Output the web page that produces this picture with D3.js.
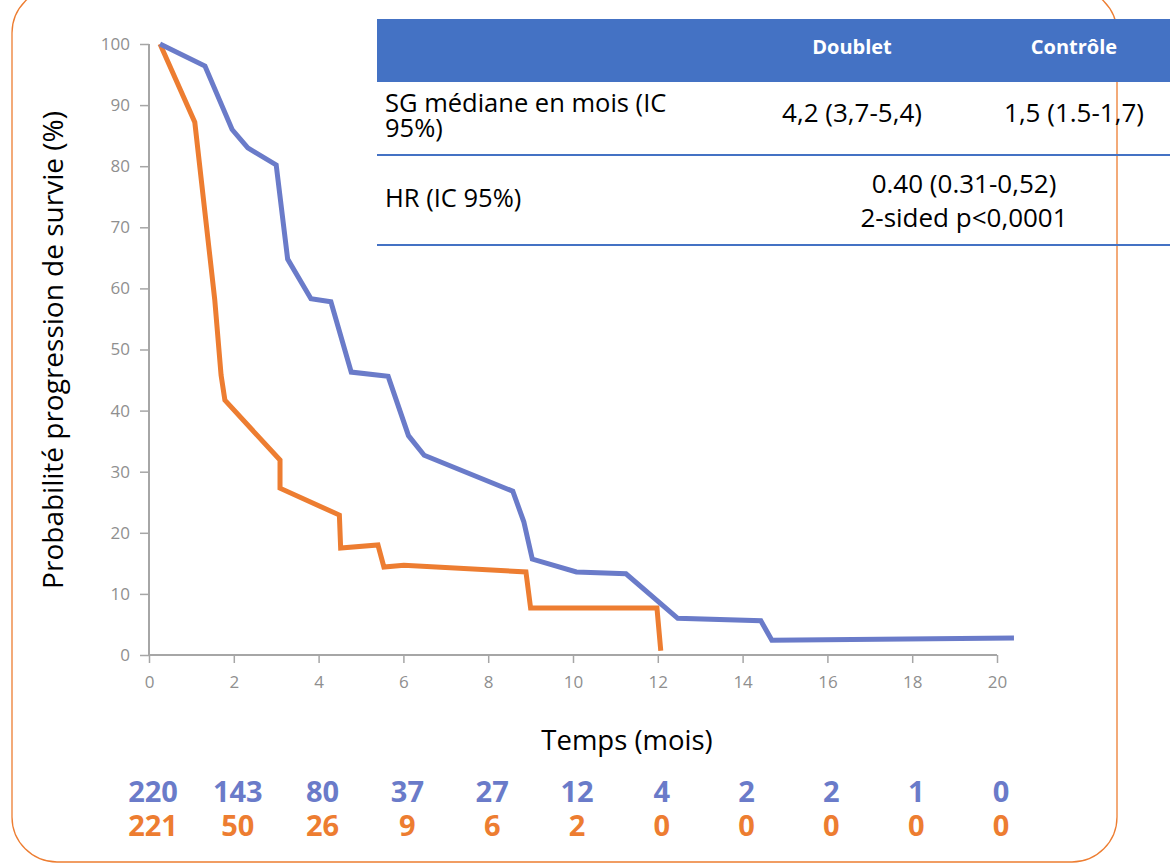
<!DOCTYPE html>
<html>
<head>
<meta charset="utf-8">
<script src="https://cdn.jsdelivr.net/npm/d3@7"></script>
<style>
  body { margin: 0; background: #fff; }
  svg { display: block; font-family: "Open Sans", sans-serif; }
</style>
</head>
<body>
<svg id="chart" width="1170" height="864"></svg>
<script>
// Kaplan-Meier curves (months, % survival)
const doubletTime = [0.26, 1.32, 1.96, 2.33, 3.0, 3.27, 3.82, 4.29, 4.77, 5.64, 6.12, 6.49, 8.58, 8.84, 9.04, 10.08, 11.25, 12.47, 14.43, 14.69, 20.4];
const doubletSurv = [100, 96.4, 86.0, 83.0, 80.2, 64.8, 58.3, 57.8, 46.3, 45.6, 35.9, 32.7, 26.8, 21.8, 15.7, 13.6, 13.3, 6.0, 5.6, 2.4, 2.8];

const controlTime = [0.26, 1.08, 1.55, 1.70, 1.79, 3.09, 3.09, 4.49, 4.52, 5.40, 5.54, 6.01, 8.89, 9.00, 11.98, 12.07];
const controlSurv = [100, 87.2, 58.2, 45.8, 41.7, 31.9, 27.3, 22.9, 17.5, 18.0, 14.4, 14.7, 13.6, 7.7, 7.7, 0.7];

// Number at risk
const riskTimes = [0, 2, 4, 6, 8, 10, 12, 14, 16, 18, 20];
const riskDoublet = [220, 143, 80, 37, 27, 12, 4, 2, 2, 1, 0];
const riskControl = [221, 50, 26, 9, 6, 2, 0, 0, 0, 0, 0];

// Summary table
const tableHeader = ["Doublet", "Contrôle"];
const medianLabel = ["SG médiane en mois (IC", "95%)"];
const medianValues = ["4,2 (3,7-5,4)", "1,5 (1.5-1,7)"];
const hrLabel = "HR (IC 95%)";
const hrValues = ["0.40 (0.31-0,52)", "2-sided p<0,0001"];

const blue = "#6a7bc9",
      orange = "#ed7d31",
      tableBlue = "#4472c4",
      axisGrey = "#a6a6a6",
      labelGrey = "#8f8f8f";

const svg = d3.select("#chart");

const x = d3.scaleLinear().domain([0, 20]).range([149, 997]);
const y = d3.scaleLinear().domain([0, 100]).range([655, 44]);

// Rounded frame
svg.append("rect")
    .attr("x", 12).attr("y", -12)
    .attr("width", 1105).attr("height", 874)
    .attr("rx", 45).attr("ry", 45)
    .attr("fill", "none")
    .attr("stroke", orange)
    .attr("stroke-width", 1.3);

// Axes
const yAxis = svg.append("g")
    .attr("transform", `translate(${x(0)},0)`)
    .call(d3.axisLeft(y).tickValues(d3.range(0, 101, 10)).tickSize(9).tickPadding(10));
const xAxis = svg.append("g")
    .attr("transform", `translate(0,${y(0)})`)
    .call(d3.axisBottom(x).tickValues(d3.range(0, 21, 2)).tickSize(8).tickPadding(13));

[yAxis, xAxis].forEach(a => {
  a.select(".domain").attr("stroke", axisGrey).attr("stroke-width", 2);
  a.selectAll(".tick line").attr("stroke", axisGrey).attr("stroke-width", 1.5);
  a.selectAll(".tick text")
      .attr("fill", labelGrey)
      .style("font-size", "17px")
      .style("font-family", "'Open Sans', sans-serif");
});
// keep only the plain axis line, no outer ticks
yAxis.select(".domain").attr("d", `M0,${y(100)}V${y(0)}`);
xAxis.select(".domain").attr("d", `M${x(0)},0H${x(20)}`);

// Axis titles
svg.append("text")
    .attr("transform", "translate(63,350) rotate(-90)")
    .attr("text-anchor", "middle")
    .style("font-size", "28px")
    .text("Probabilité progression de survie (%)");

svg.append("text")
    .attr("x", 627).attr("y", 750)
    .attr("text-anchor", "middle")
    .style("font-size", "27.5px")
    .text("Temps (mois)");

// Curves
const line = d3.line()
    .x(d => x(d[0]))
    .y(d => y(d[1]));

svg.append("path")
    .datum(d3.zip(controlTime, controlSurv))
    .attr("fill", "none")
    .attr("stroke", orange)
    .attr("stroke-width", 5)
    .attr("d", line);

svg.append("path")
    .datum(d3.zip(doubletTime, doubletSurv))
    .attr("fill", "none")
    .attr("stroke", blue)
    .attr("stroke-width", 5)
    .attr("d", line);

// Numbers at risk
const riskRows = [
  {values: riskDoublet, color: blue, y: 802},
  {values: riskControl, color: orange, y: 836}
];
riskRows.forEach(row => {
  svg.append("g").selectAll("text")
    .data(row.values)
    .enter()
    .append("text")
      .attr("x", (d, i) => x(riskTimes[i]) + 4)
      .attr("y", row.y)
      .attr("text-anchor", "middle")
      .attr("fill", row.color)
      .style("font-size", "29px")
      .style("font-weight", "bold")
      .text(d => d);
});

// Summary table (top right)
const table = svg.append("g");
table.append("rect")
    .attr("x", 377).attr("y", 19)
    .attr("width", 800).attr("height", 63)
    .attr("fill", tableBlue);

const colX = [852, 1074];
table.selectAll(".head")
  .data(tableHeader)
  .enter()
  .append("text")
    .attr("class", "head")
    .attr("x", (d, i) => colX[i])
    .attr("y", 54)
    .attr("text-anchor", "middle")
    .attr("fill", "#fff")
    .style("font-size", "20px")
    .style("font-weight", "bold")
    .text(d => d);

[155, 245].forEach(ly => {
  table.append("line")
      .attr("x1", 377).attr("x2", 1170)
      .attr("y1", ly).attr("y2", ly)
      .attr("stroke", tableBlue)
      .attr("stroke-width", 2);
});

table.selectAll(".mlabel")
  .data(medianLabel)
  .enter()
  .append("text")
    .attr("x", 385)
    .attr("y", (d, i) => 112 + i * 25)
    .style("font-size", "25.5px")
    .text(d => d);

table.selectAll(".mval")
  .data(medianValues)
  .enter()
  .append("text")
    .attr("x", (d, i) => colX[i])
    .attr("y", 122)
    .attr("text-anchor", "middle")
    .style("font-size", "26px")
    .text(d => d);

table.append("text")
    .attr("x", 385).attr("y", 207)
    .style("font-size", "25.5px")
    .text(hrLabel);

table.selectAll(".hrval")
  .data(hrValues)
  .enter()
  .append("text")
    .attr("x", 964)
    .attr("y", (d, i) => 193 + i * 34)
    .attr("text-anchor", "middle")
    .style("font-size", "26px")
    .text(d => d);
</script>
</body>
</html>
